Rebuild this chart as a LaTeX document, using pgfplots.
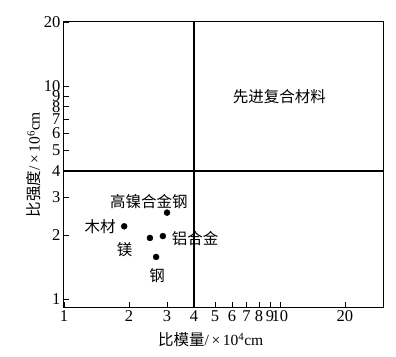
\documentclass[border=0pt]{standalone}
\usepackage{fontspec}
\setmainfont{Liberation Serif}
\newfontfamily\cjk{Noto Sans CJK SC}
\usepackage{pgfplots}
\pgfplotsset{compat=1.18}
\begin{document}
\begin{tikzpicture}
\begin{axis}[
  scale only axis, width=319pt, height=285pt,
  xmode=log, ymode=log,
  xmin=1, xmax=30, ymin=0.92, ymax=20,
  axis line style={line width=1pt},
  xtick={1,2,3,4,5,6,7,8,9,10,20},
  xticklabels={1,2,3,4,5,6,7,8,9,10,20},
  ytick={1,2,3,4,5,6,7,8,9,10,20},
  yticklabels={1,2,3,4,5,6,7,8,9,10,20},
  minor tick num=0, minor xtick={}, minor ytick={},
  tick align=inside, major tick length=5pt,
  xtick pos=bottom, ytick pos=left,
  tick style={line width=0.8pt, black},
  ticklabel style={font=\fontsize{16.5}{16.5}\selectfont},
  xticklabel style={inner xsep=0pt},
  xlabel={\cjk 比模量\rmfamily/\,×\,10\textsuperscript{4}cm},
  ylabel={\cjk 比强度\rmfamily/\,×\,10\textsuperscript{6}cm},
  label style={font=\fontsize{15.5}{15.5}\selectfont},
  xlabel style={at={(rel axis cs:0.46,0)}, anchor=center, yshift=-33pt},
  ylabel style={yshift=-4pt},
  clip=false,
]
\addplot[only marks, mark=*, mark size=3pt, black] coordinates {
  (1.9,2.2) (2.5,1.94) (2.87,1.98) (3.0,2.55) (2.67,1.58)
};
\draw[line width=1.8pt] (axis cs:4,0.92) -- (axis cs:4,20);
\draw[line width=1.8pt] (axis cs:1,4) -- (axis cs:30,4);
\begin{scope}[every node/.style={font=\fontsize{15.5}{15.5}\selectfont\cjk}]
\node at (rel axis cs:0.113,0.281) {木材};
\node at (rel axis cs:0.190,0.200) {镁};
\node at (rel axis cs:0.266,0.370) {高镍合金钢};
\node at (rel axis cs:0.411,0.242) {铝合金};
\node at (rel axis cs:0.292,0.109) {钢};
\node at (rel axis cs:0.675,0.738) {先进复合材料};
\end{scope}
\end{axis}
\path (current axis.south west) ++(-64pt,-49pt) coordinate (bl);
\path (current axis.north east) ++(13pt,22pt) coordinate (tr);
\path (bl) rectangle (tr);
\end{tikzpicture}
\end{document}
